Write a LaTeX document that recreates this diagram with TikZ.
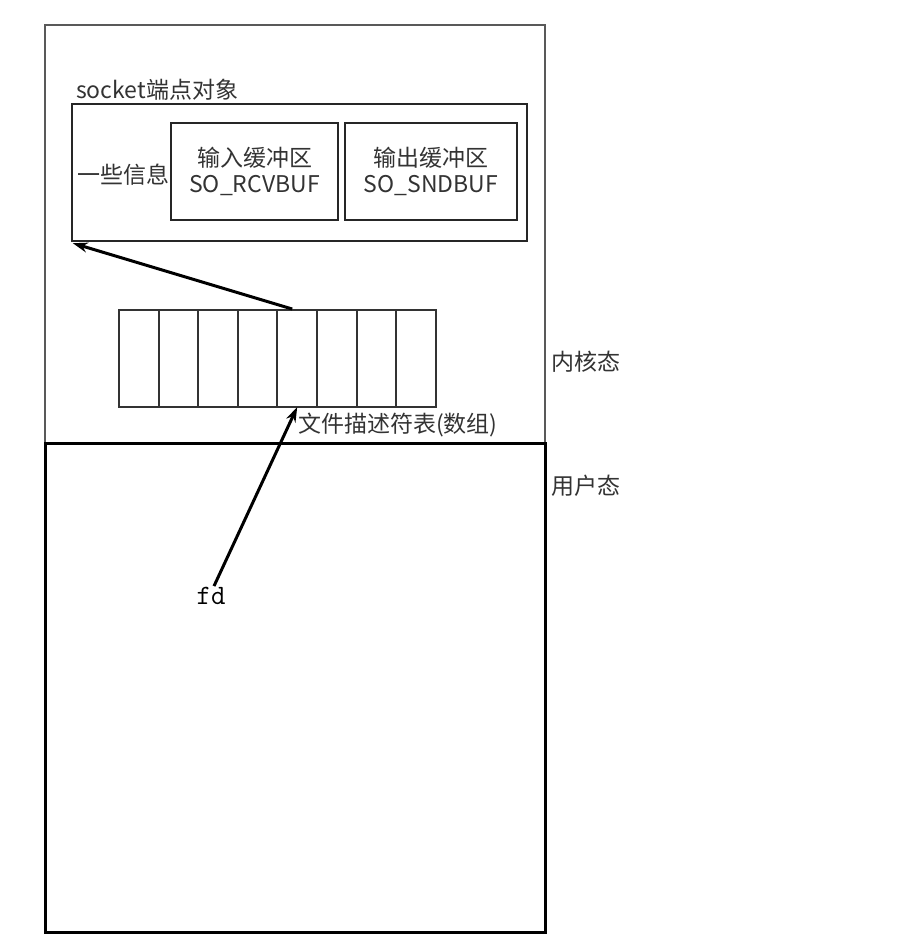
\documentclass[tikz,border=0pt]{standalone}
\usepackage{fontspec}
\usepackage{tikz}
\usetikzlibrary{arrows.meta, positioning}
\newfontfamily\cjk{Noto Sans CJK SC}

\begin{document}
\begin{tikzpicture}[x=1pt, y=-1pt,
            box/.style={draw, rectangle, inner sep=0pt, align=center},
            lbl/.style={font=\cjk\fontsize{23}{26}\selectfont, text=black!80, inner sep=0pt},
            cell/.style={box, draw=black!80, line width=2pt, minimum width=39.6pt, minimum height=97pt}]

            \useasboundingbox (0,0) rectangle (898,934);

            % kernel / user regions
            \node[box, draw=black!65, line width=2pt, minimum width=500pt, minimum height=418pt] (kernel) at (295,234) {};
            \node[box, line width=3pt, minimum width=500pt, minimum height=489pt] (user) at (295,687.5) {};
            \node[lbl, anchor=west] (kernellbl) at (551,362) {内核态};
            \node[lbl, anchor=west] (userlbl) at (551,486) {用户态};

            % socket object
            \node[box, draw=black!85, line width=2.4pt, minimum width=455pt, minimum height=137pt] (socket) at (299.5,172.5) {};
            \node[lbl, anchor=west] (socketlbl) at (76,90) {socket端点对象};
            \node[lbl, anchor=west] (info) at (77,175) {一些信息};
            \node[box, lbl, draw=black!85, line width=2.4pt, minimum width=167pt, minimum height=97pt] (rcvbuf) at (254.5,171.5) {输入缓冲区\\SO\_RCVBUF};
            \node[box, lbl, draw=black!85, line width=2.4pt, minimum width=172pt, minimum height=97pt] (sndbuf) at (431,171.5) {输出缓冲区\\SO\_SNDBUF};

            % fd table
            \foreach \i in {1,...,8}
                \node[cell] (c\i) at ({119+39.6*(\i-0.5)},358.5) {};
            \node[lbl, anchor=west] (tablelbl) at (298,425) {文件描述符表(数组)};

            \node[font=\ttfamily\fontsize{28}{32}\selectfont, inner sep=1pt] (fd) at (211,596) {fd};

            \draw[-{Stealth[length=15pt, width=10pt]}, line width=3pt] ([xshift=-5pt]c5.north) -- ([xshift=2pt, yshift=-1pt]socket.south west);
            \draw[-{Stealth[length=15pt, width=10pt]}, line width=3pt] ([xshift=3pt]fd.north) -- ([yshift=1pt]c5.south);
        \end{tikzpicture}
\end{document}
